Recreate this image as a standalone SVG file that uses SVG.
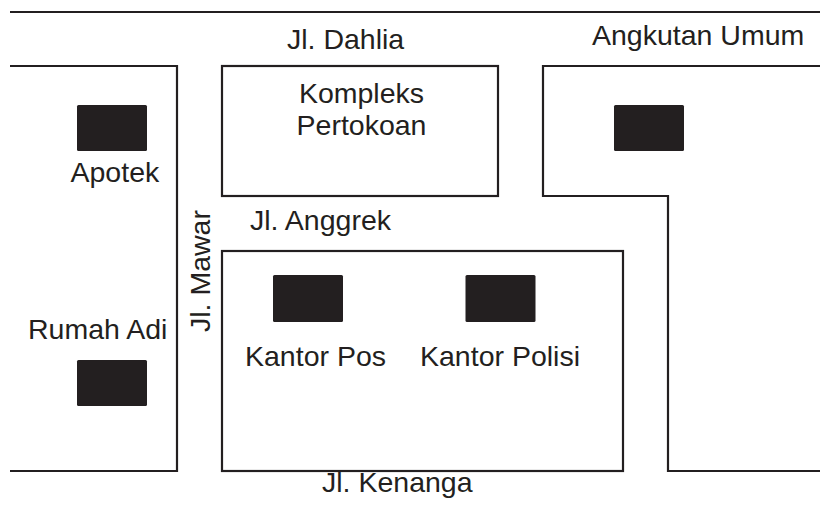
<svg xmlns="http://www.w3.org/2000/svg" width="820" height="521" viewBox="0 0 820 521">
<style>
.ln{fill:none;stroke:#231f20;stroke-width:2.2;stroke-linejoin:miter}
.bld{fill:#231f20}
.t{font-family:"Liberation Sans",Arial,sans-serif;font-size:28.5px;fill:#231f20}
</style>
<rect width="820" height="521" fill="#ffffff"/>
<g id="streets">
<line class="ln" x1="10" y1="12" x2="820" y2="12"/>
<polyline class="ln" points="10,66 177,66 177,471 10,471"/>
<rect id="kompleks-block" class="ln" x="222" y="66" width="276" height="130"/>
<polyline class="ln" points="820,66 543,66 543,196 668,196 668,471 820,471"/>
<rect id="bottom-block" class="ln" x="222" y="251" width="401" height="220"/>
</g>
<g id="apotek"><rect class="bld" x="77" y="105" width="70" height="46" rx="1.5"/><text class="t" x="70.5" y="182">Apotek</text></g>
<g id="angkutan"><rect class="bld" x="614" y="105" width="70" height="46" rx="1.5"/></g>
<g id="rumah-adi"><rect class="bld" x="77" y="360" width="70" height="46" rx="1.5"/><text class="t" x="28" y="339">Rumah Adi</text></g>
<g id="kantor-pos"><rect class="bld" x="273" y="275" width="70" height="47" rx="1.5"/><text class="t" x="245" y="366">Kantor Pos</text></g>
<g id="kantor-polisi"><rect class="bld" x="465.5" y="275" width="70" height="47" rx="1.5"/><text class="t" x="420" y="366">Kantor Polisi</text></g>
<g id="labels">
<text class="t" x="287" y="49">Jl. Dahlia</text>
<text class="t" x="592" y="45">Angkutan Umum</text>
<text class="t" x="361.5" y="103" text-anchor="middle">Kompleks</text>
<text class="t" x="361.5" y="135" text-anchor="middle">Pertokoan</text>
<text class="t" x="250" y="230">Jl. Anggrek</text>
<text class="t" transform="translate(210,332) rotate(-90)">Jl. Mawar</text>
<text class="t" x="322" y="492">Jl. Kenanga</text>
</g>
</svg>
